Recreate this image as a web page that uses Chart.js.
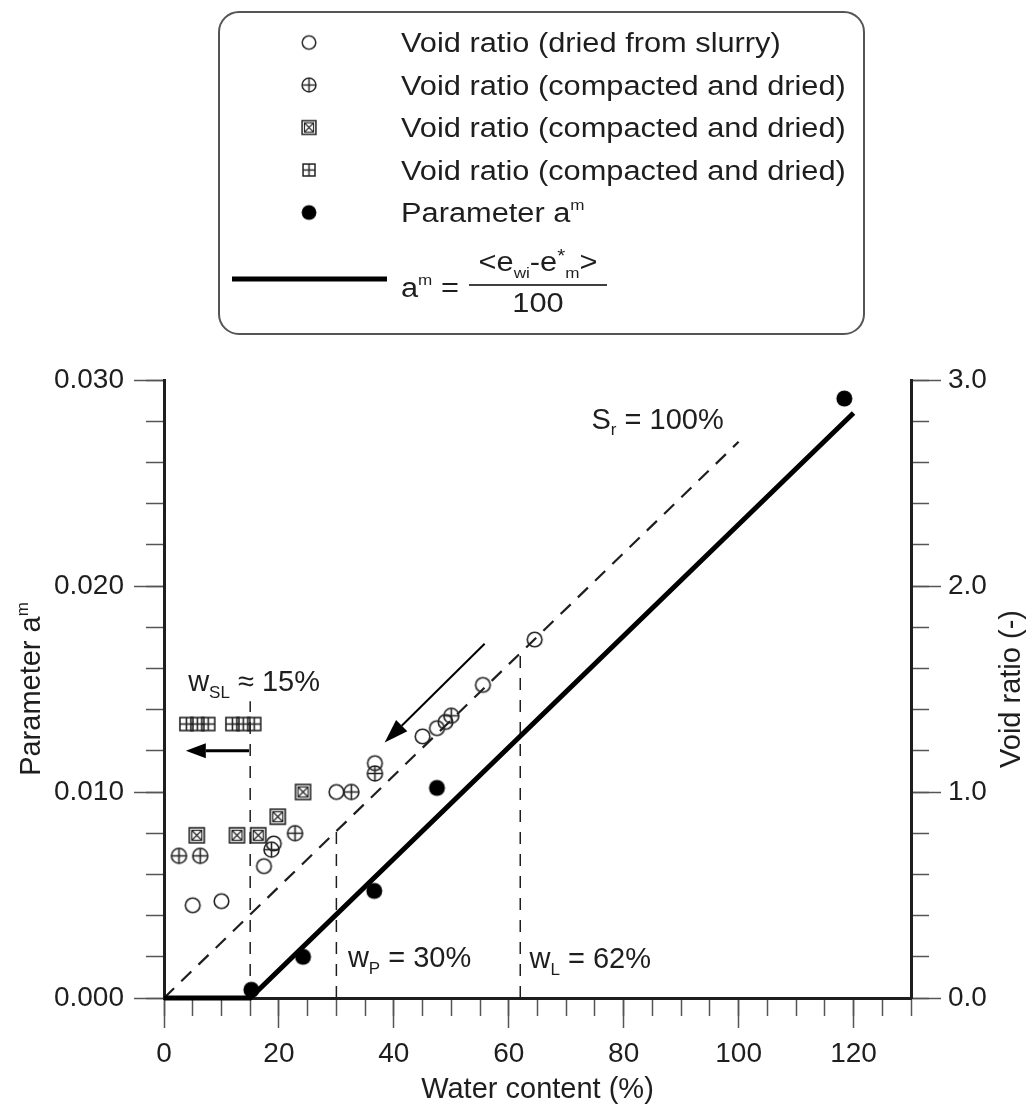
<!DOCTYPE html>
<html>
<head>
<meta charset="utf-8">
<script src="https://cdn.jsdelivr.net/npm/chart.js@4.4.1/dist/chart.umd.min.js"></script>
<style>
  html, body { margin: 0; padding: 0; background: #fff; }
  #wrap { position: relative; width: 1033px; height: 1109px; }
</style>
</head>
<body>
<div id="wrap"><canvas id="chart"></canvas></div>
<script>
// values
// void ratio, dried from slurry (open circles)
const slurryW = [5.0, 10.0, 17.4, 19.1, 30.0, 36.7, 45.0, 47.5, 49.0, 55.5, 64.5];
const slurryE = [0.45, 0.47, 0.64, 0.75, 1.00, 1.14, 1.27, 1.31, 1.34, 1.52, 1.74];
// compacted and dried (circle with plus)
const compAW = [2.6, 6.3, 18.7, 22.8, 32.6, 36.7, 50.0];
const compAE = [0.69, 0.69, 0.72, 0.80, 1.00, 1.09, 1.37];
// compacted and dried (box with x)
const compBW = [5.7, 12.7, 16.4, 19.8, 24.2];
const compBE = [0.79, 0.79, 0.79, 0.88, 1.00];
// compacted and dried (box with plus)
const compCW = [3.9, 5.8, 7.7, 11.9, 13.8, 15.7];
const compCE = [1.33, 1.33, 1.33, 1.33, 1.33, 1.33];
// parameter a^m (filled circles)
const paramW = [15.2, 24.2, 36.6, 47.5, 118.4];
const paramA = [0.0004, 0.0020, 0.0052, 0.0102, 0.0291];
// a^m = <e_wi - e*_m>/100
const fitW = [0, 15, 120];
const fitA = [0, 0, 0.0284];
// Sr = 100 %
const satW = [0, 100];
const satE = [0, 2.7];
// shrinkage, plastic, liquid limit
const limitW = [15, 30, 62];
const limitTop = [1.44, 0.81, 1.67];

// axis ticks
const xTicksMajor = 20, xTicksMinor = 5;
const aTicksMajor = 0.01, aTicksMinor = 0.002;
const eTicksMajor = 1.0, eTicksMinor = 0.2;

const FONT = '"Liberation Sans", Arial, Helvetica, sans-serif';
const INK = '#1e1e1e';
const TICK = '#555';

function toPts(xs, ys) {
  return xs.map((x, i) => ({ x: x, y: ys[i] }));
}

// little canvases used as point styles
function marker(kind) {
  const s = 19;
  const c = document.createElement('canvas');
  c.width = s; c.height = s;
  const g = c.getContext('2d');
  g.strokeStyle = '#222';
  g.lineWidth = 1.6;
  const m = s / 2;
  if (kind === 'cplus') {
    const r = 7.5;
    g.beginPath(); g.arc(m, m, r, 0, Math.PI * 2); g.stroke();
    g.beginPath();
    g.moveTo(m - r, m); g.lineTo(m + r, m);
    g.moveTo(m, m - r); g.lineTo(m, m + r);
    g.stroke();
  } else if (kind === 'bx') {
    const h = 7.5;
    g.strokeRect(m - h, m - h, 2 * h, 2 * h);
    g.lineWidth = 1.2;
    g.strokeRect(m - h + 2.5, m - h + 2.5, 2 * h - 5, 2 * h - 5);
    g.beginPath();
    g.moveTo(m - h + 2.5, m - h + 2.5); g.lineTo(m + h - 2.5, m + h - 2.5);
    g.moveTo(m + h - 2.5, m - h + 2.5); g.lineTo(m - h + 2.5, m + h - 2.5);
    g.stroke();
  } else if (kind === 'bplus') {
    const h = 6.5;
    g.strokeRect(m - h, m - h, 2 * h, 2 * h);
    g.beginPath();
    g.moveTo(m - h, m); g.lineTo(m + h, m);
    g.moveTo(m, m - h); g.lineTo(m, m + h);
    g.stroke();
  } else if (kind === 'open') {
    g.beginPath(); g.arc(m, m, 7.3, 0, Math.PI * 2); g.stroke();
  } else if (kind === 'dot') {
    g.fillStyle = '#000';
    g.beginPath(); g.arc(m, m, 8, 0, Math.PI * 2); g.fill();
  }
  return c;
}
const mkOpen = marker('open');
const mkCPlus = marker('cplus');
const mkBX = marker('bx');
const mkBPlus = marker('bplus');
const mkDot = marker('dot');

// text with sub/superscripts: parts = [text, size, dy]
function rich(ctx, x, y, parts, opt) {
  opt = opt || {};
  const sx = opt.sx || 1;
  ctx.save();
  ctx.translate(x, y);
  if (opt.rotate) ctx.rotate(opt.rotate);
  ctx.scale(sx, 1);
  let w = 0;
  const widths = parts.map(p => {
    ctx.font = p[1] + 'px ' + FONT;
    const pw = ctx.measureText(p[0]).width;
    w += pw;
    return pw;
  });
  let cx = opt.align === 'center' ? -w / 2 : 0;
  ctx.fillStyle = INK;
  ctx.textAlign = 'left';
  ctx.textBaseline = 'alphabetic';
  parts.forEach((p, i) => {
    ctx.font = p[1] + 'px ' + FONT;
    ctx.fillText(p[0], cx, p[2] || 0);
    cx += widths[i];
  });
  ctx.restore();
}

function arrow(ctx, x1, y1, x2, y2, lw, headLen, headW) {
  const ang = Math.atan2(y2 - y1, x2 - x1);
  const bx = x2 - headLen * Math.cos(ang), by = y2 - headLen * Math.sin(ang);
  ctx.save();
  ctx.strokeStyle = '#000';
  ctx.fillStyle = '#000';
  ctx.lineWidth = lw;
  ctx.beginPath(); ctx.moveTo(x1, y1); ctx.lineTo(bx, by); ctx.stroke();
  ctx.beginPath();
  ctx.moveTo(x2, y2);
  ctx.lineTo(bx + headW / 2 * Math.sin(ang), by - headW / 2 * Math.cos(ang));
  ctx.lineTo(bx - headW / 2 * Math.sin(ang), by + headW / 2 * Math.cos(ang));
  ctx.closePath(); ctx.fill();
  ctx.restore();
}

// annotations, placed in data units (water content, void ratio)
const arrows = [
  { from: [55.8, 1.72], to: [38.4, 1.24], lw: 2, head: 24, w: 16 },
  { from: [14.8, 1.20], to: [3.8, 1.20], lw: 3, head: 20, w: 15 }
];
const notes = [
  { at: [74.4, 2.76], parts: [['S', 29], ['r', 17, 6], [' = 100%', 29]] },
  { at: [4.2, 1.49], parts: [['w', 29], ['SL', 17, 7], [' \u2248 15%', 29]] },
  { at: [32.0, 0.15], parts: [['w', 29], ['P', 17, 7], [' = 30%', 29]] },
  { at: [63.6, 0.145], parts: [['w', 29], ['L', 17, 7], [' = 62%', 29]] }
];

const overlay = {
  id: 'overlay',
  afterDatasetsDraw(chart) {
    const ctx = chart.ctx;
    const sx = chart.scales.x, sy = chart.scales.y2;
    arrows.forEach(a => {
      arrow(ctx, sx.getPixelForValue(a.from[0]), sy.getPixelForValue(a.from[1]),
        sx.getPixelForValue(a.to[0]), sy.getPixelForValue(a.to[1]), a.lw, a.head, a.w);
    });
    notes.forEach(n => {
      rich(ctx, sx.getPixelForValue(n.at[0]), sy.getPixelForValue(n.at[1]), n.parts);
    });
  },
  afterDraw(chart) {
    const ctx = chart.ctx;
    const area = chart.chartArea;
    const midY = (area.top + area.bottom) / 2;
    // axis titles
    rich(ctx, 40, midY, [['Parameter a', 29], ['m', 17, -12]], { rotate: -Math.PI / 2, align: 'center' });
    rich(ctx, 1020, midY, [['Void ratio (-)', 29]], { rotate: -Math.PI / 2, align: 'center' });

    // legend box
    const L = 219, T = 12, R = 864, B = 334, rad = 20;
    ctx.save();
    ctx.strokeStyle = '#555';
    ctx.lineWidth = 2;
    ctx.beginPath();
    ctx.moveTo(L + rad, T);
    ctx.arcTo(R, T, R, B, rad);
    ctx.arcTo(R, B, L, B, rad);
    ctx.arcTo(L, B, L, T, rad);
    ctx.arcTo(L, T, R, T, rad);
    ctx.closePath();
    ctx.stroke();
    ctx.restore();

    const rows = [
      [mkOpen, 'Void ratio (dried from slurry)'],
      [mkCPlus, 'Void ratio (compacted and dried)'],
      [mkBX, 'Void ratio (compacted and dried)'],
      [mkBPlus, 'Void ratio (compacted and dried)'],
      [mkDot, 'Parameter a']
    ];
    rows.forEach((r, i) => {
      const base = 52 + i * 42.5;
      const img = r[0];
      const w = img.width * 0.92;
      ctx.drawImage(img, 309 - w / 2, base - 9.5 - w / 2, w, w);
      const parts = [[r[1], 27]];
      if (i === 4) parts.push(['m', 15, -12]);
      rich(ctx, 401, base, parts, { sx: 1.14 });
    });
    // fitted line sample and its formula
    ctx.save();
    ctx.strokeStyle = '#000';
    ctx.lineWidth = 5;
    ctx.beginPath(); ctx.moveTo(232, 279); ctx.lineTo(387, 279); ctx.stroke();
    ctx.lineWidth = 1.5;
    ctx.beginPath(); ctx.moveTo(469, 285); ctx.lineTo(607, 285); ctx.stroke();
    ctx.restore();
    rich(ctx, 401, 297, [['a', 27], ['m', 15, -12], [' =', 27]], { sx: 1.14 });
    rich(ctx, 538, 271, [['<e', 27], ['wi', 15, 7], ['-e', 27], ['*', 18, -9], ['m', 15, 7], ['>', 27]], { sx: 1.14, align: 'center' });
    rich(ctx, 538, 312, [['100', 27]], { sx: 1.14, align: 'center' });
  }
};

const tickFont = { family: FONT, size: 28 };

const limitSets = limitW.map((w, i) => ({
  data: toPts([w, w], [0, limitTop[i]]),
  yAxisID: 'y2',
  showLine: true,
  borderColor: INK,
  borderWidth: 1.5,
  borderDash: [12, 10],
  pointRadius: 0,
  tension: 0
}));

const chart = new Chart(document.getElementById('chart'), {
  type: 'scatter',
  data: {
    datasets: [
      { label: 'Void ratio (compacted and dried) 3', data: toPts(compCW, compCE), yAxisID: 'y2', pointStyle: mkBPlus },
      { label: 'Void ratio (compacted and dried) 2', data: toPts(compBW, compBE), yAxisID: 'y2', pointStyle: mkBX },
      { label: 'Void ratio (compacted and dried)', data: toPts(compAW, compAE), yAxisID: 'y2', pointStyle: mkCPlus },
      { label: 'Void ratio (dried from slurry)', data: toPts(slurryW, slurryE), yAxisID: 'y2', pointStyle: mkOpen },
      { label: 'Parameter a^m', data: toPts(paramW, paramA), yAxisID: 'y', pointStyle: mkDot, clip: false },
      {
        label: 'fit', data: toPts(fitW, fitA), yAxisID: 'y', showLine: true, pointRadius: 0,
        borderColor: '#000', borderWidth: 5, tension: 0, clip: false
      },
      {
        label: 'Sr = 100%', data: toPts(satW, satE), yAxisID: 'y2', showLine: true, pointRadius: 0,
        borderColor: INK, borderWidth: 2.2, borderDash: [14, 10], tension: 0
      }
    ].concat(limitSets)
  },
  options: {
    responsive: true,
    maintainAspectRatio: false,
    animation: false,
    events: [],
    layout: { padding: { top: 380, left: 0, right: 0, bottom: 0 } },
    plugins: { legend: { display: false }, tooltip: { enabled: false } },
    scales: {
      x: {
        type: 'linear', position: 'bottom', min: 0, max: 130, weight: 1,
        ticks: { stepSize: xTicksMajor, includeBounds: false, autoSkip: false, maxRotation: 0, padding: 9, color: INK, font: tickFont },
        grid: { drawOnChartArea: false, tickLength: 30, tickColor: TICK, tickWidth: 1.5 },
        border: { color: INK, width: 3 },
        title: { display: true, text: 'Water content (%)', color: INK, font: { family: FONT, size: 29 }, padding: { top: 0, bottom: 2 } },
        afterFit: s => { s.height = 111; }
      },
      xMinor: {
        type: 'linear', position: 'bottom', min: 0, max: 130, weight: 0,
        ticks: { stepSize: xTicksMinor, display: false },
        grid: { drawOnChartArea: false, tickLength: 18, tickColor: TICK, tickWidth: 1.5 },
        border: { display: false },
        afterFit: s => { s.height = 0; }
      },
      y: {
        type: 'linear', position: 'left', min: 0, max: 0.03, weight: 1,
        ticks: { stepSize: aTicksMajor, autoSkip: false, padding: 10, color: INK, font: tickFont, callback: v => v.toFixed(3) },
        grid: { drawOnChartArea: false, tickLength: 30, tickColor: TICK, tickWidth: 1.5 },
        border: { color: INK, width: 3 },
        afterFit: s => { s.width = 164; }
      },
      yMinor: {
        type: 'linear', position: 'left', min: 0, max: 0.03, weight: 0,
        ticks: { stepSize: aTicksMinor, display: false },
        grid: { drawOnChartArea: false, tickLength: 18, tickColor: TICK, tickWidth: 1.5 },
        border: { display: false },
        afterFit: s => { s.width = 0; }
      },
      y2: {
        type: 'linear', position: 'right', min: 0, max: 3, weight: 1,
        ticks: { stepSize: eTicksMajor, autoSkip: false, padding: 7, color: INK, font: tickFont, callback: v => v.toFixed(1) },
        grid: { drawOnChartArea: false, tickLength: 30, tickColor: TICK, tickWidth: 1.5 },
        border: { color: INK, width: 3 },
        afterFit: s => { s.width = 122; }
      },
      y2Minor: {
        type: 'linear', position: 'right', min: 0, max: 3, weight: 0,
        ticks: { stepSize: eTicksMinor, display: false },
        grid: { drawOnChartArea: false, tickLength: 18, tickColor: TICK, tickWidth: 1.5 },
        border: { display: false },
        afterFit: s => { s.width = 0; }
      }
    }
  },
  plugins: [overlay]
});
</script>
</body>
</html>
